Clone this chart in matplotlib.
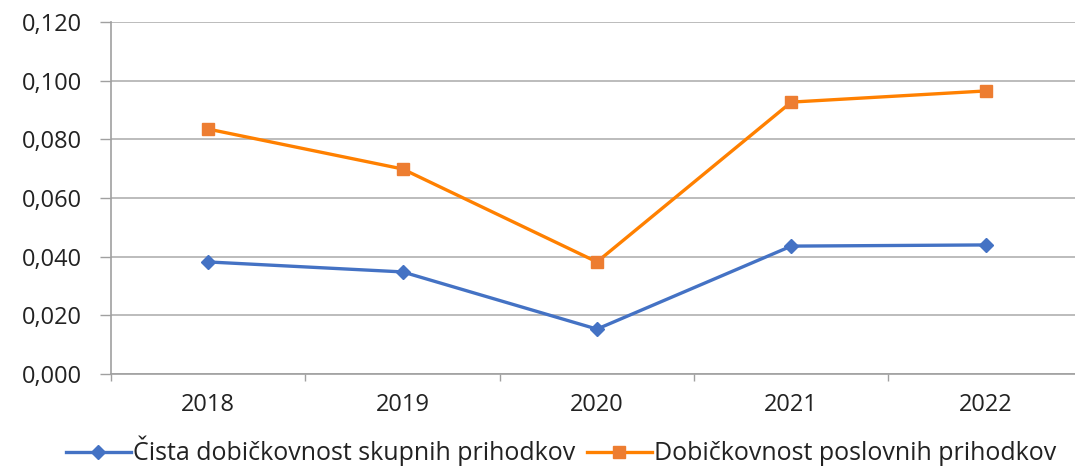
import numpy as np
import matplotlib
matplotlib.use("Agg")
import matplotlib.pyplot as plt
from matplotlib.ticker import FuncFormatter, FixedLocator

years = ["2018", "2019", "2020", "2021", "2022"]
cista = [0.0382, 0.0348, 0.0153, 0.0436, 0.0440]
poslovni = [0.0835, 0.0699, 0.0382, 0.0927, 0.0965]
labels = ["Čista dobičkovnost skupnih prihodkov", "Dobičkovnost poslovnih prihodkov"]

plt.rcParams['font.family'] = ['Open Sans', 'DejaVu Sans']

fig = plt.figure(figsize=(10.75, 4.68), dpi=100)
ax = fig.add_axes([0.1033, 0.2009, 0.904, 0.752])

x = np.arange(len(years))
ax.plot(x, cista, color="#4472C4", lw=2.4, marker="D", ms=7.5,
        mfc="#4472C4", mec="#4472C4", label=labels[0], zorder=3)
ax.plot(x, poslovni, color="#FF8000", lw=2.4, marker="s", ms=9,
        mfc="#ED7D31", mec="#ED7D31", label=labels[1], zorder=3)

ax.set_xlim(-0.5, 4.5)
ax.set_ylim(0, 0.12)
ax.set_yticks(np.arange(0, 0.121, 0.02))
ax.yaxis.set_major_formatter(FuncFormatter(lambda v, p: f"{v:.3f}".replace(".", ",")))
ax.set_xticks(x)
ax.set_xticklabels(years)
ax.xaxis.set_minor_locator(FixedLocator(np.arange(-0.5, 4.6, 1)))
ax.tick_params(axis="x", which="major", length=0, pad=14, labelsize=17, colors="#222222")
ax.tick_params(axis="x", which="minor", length=5, width=1, color="#A0A0A0")
ax.tick_params(axis="y", length=8, width=1, color="#A0A0A0", pad=13,
               labelsize=17, labelcolor="#222222")

ax.grid(axis="y", color="#B0B0B0", lw=1.2)
ax.set_axisbelow(True)
for s in ["top", "right"]:
    ax.spines[s].set_visible(False)
for s in ["left", "bottom"]:
    ax.spines[s].set_color("#A0A0A0")
    ax.spines[s].set_linewidth(1.2)

fig.legend(loc="center", bbox_to_anchor=(0.522, 0.036), ncol=2, frameon=False,
           fontsize=18, handlelength=2.6, handletextpad=0.1, columnspacing=0.45,
           labelcolor="#222222", borderpad=0.1)

fig.savefig("out.png", dpi=100)
